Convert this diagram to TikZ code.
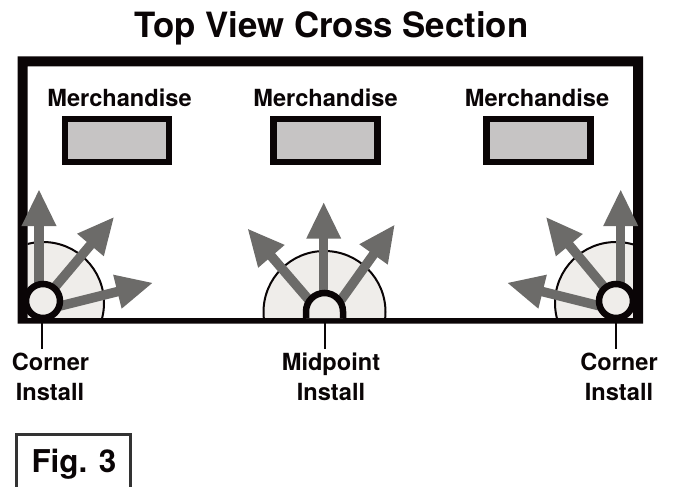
\documentclass[tikz,border=0pt]{standalone}
\usepackage{fontspec}
\setmainfont{TeX Gyre Heros}
\usetikzlibrary{arrows.meta}
\definecolor{rayc}{HTML}{6C6B69}
\definecolor{zonec}{HTML}{EFEDEA}
\definecolor{goodsc}{HTML}{C6C4C4}
\definecolor{inkc}{HTML}{0A0506}
\tikzset{
  ray/.style={draw=rayc,line width=9.5pt,-{Triangle[width=32pt,length=37pt]}},
  zone/.style={fill=zonec,draw=inkc,line width=2pt},
  ring/.style={fill=zonec,draw=inkc,line width=6.5pt},
  goods/.style={fill=goodsc,draw=inkc,line width=6.5pt},
  leader/.style={draw=inkc,line width=2.2pt},
  lab/.style={font=\fontsize{23.6pt}{23.6pt}\selectfont\bfseries,text=inkc,anchor=base,inner sep=0pt},
  heading/.style={font=\fontsize{34.8pt}{34.8pt}\selectfont\bfseries,text=inkc,anchor=base,inner sep=0pt},
  figlab/.style={font=\fontsize{31.4pt}{31.4pt}\selectfont\bfseries,text=inkc,anchor=base,inner sep=0pt}
}
\begin{document}
\begin{tikzpicture}[x=1pt,y=-1pt]
\useasboundingbox (0,0) rectangle (673,487);
\node[heading] (title) at (331.5,37.5) {Top View Cross Section};
% coverage zones
\begin{scope}
\clip (27.5,66) rectangle (633,320);
\draw[zone] (43,303) circle (61);
\draw[zone] (324.5,312) circle (61);
\draw[zone] (616,303) circle (61);
\end{scope}
% wall
\fill[inkc,even odd rule] (17.5,56.5) rectangle (643,323.5) (27.5,66.5) rectangle (633,318);
% merchandise
\node[goods,minimum width=104pt,minimum height=43pt,inner sep=0pt] (g1) at (117,140.5) {};
\node[goods,minimum width=104pt,minimum height=43pt,inner sep=0pt] (g2) at (325.5,140.5) {};
\node[goods,minimum width=104pt,minimum height=43pt,inner sep=0pt] (g3) at (538.5,140.5) {};
\node[lab] (m1) at (119.5,106.7) {Merchandise};
\node[lab] (m2) at (325.5,106.7) {Merchandise};
\node[lab] (m3) at (537,106.7) {Merchandise};
% install points
\coordinate (cl) at (43,301);
\coordinate (cr) at (616,301);
\coordinate (mp) at (324.5,311.5);
% rays, left corner
\coordinate (la) at (39,285); \coordinate (lat) at (39,189);
\coordinate (lb) at (55,287); \coordinate (lbt) at (114.3,216.7);
\coordinate (lc) at (60,306); \coordinate (lct) at (153.3,282.7);
\draw[ray] (la) -- (lat);
\draw[ray] (lb) -- (lbt);
\draw[ray] (lc) -- (lct);
% rays, midpoint
\coordinate (ma) at (323.7,295); \coordinate (mat) at (323.7,201.7);
\coordinate (mb) at (309,300); \coordinate (mbt) at (247.3,228.3);
\coordinate (mc) at (341,300); \coordinate (mct) at (395,224.3);
\draw[ray] (ma) -- (mat);
\draw[ray] (mb) -- (mbt);
\draw[ray] (mc) -- (mct);
% rays, right corner
\coordinate (ra) at (620.7,285); \coordinate (rat) at (620.7,189);
\coordinate (rb) at (604,287); \coordinate (rbt) at (545.7,216.7);
\coordinate (rc) at (600,306); \coordinate (rct) at (506.7,282.7);
\draw[ray] (ra) -- (rat);
\draw[ray] (rb) -- (rbt);
\draw[ray] (rc) -- (rct);
% lamps
\node[ring,circle,minimum size=34pt,inner sep=0pt] (lampl) at (cl) {};
\node[ring,circle,minimum size=34pt,inner sep=0pt] (lampr) at (cr) {};
\draw[ring] ([xshift=-18.5pt]mp) ++(0,6.5) -- ++(0,-6.5) arc[start angle=180,end angle=0,radius=18.5pt] -- ++(0,6.5);
% labels
\node[lab] (c1) at (50.5,370) {Corner};
\node[lab] (i1) at (50,400) {Install};
\node[lab] (c2) at (331,370) {Midpoint};
\node[lab] (i2) at (331,400) {Install};
\node[lab] (c3) at (619,370) {Corner};
\node[lab] (i3) at (619,400) {Install};
\coordinate (t1) at (42.3,323); \coordinate (b1) at (42.3,349);
\coordinate (t2) at (324.7,323); \coordinate (b2) at (324.7,349);
\coordinate (t3) at (616,323); \coordinate (b3) at (616,349);
\draw[leader] (t1) -- (b1);
\draw[leader] (t2) -- (b2);
\draw[leader] (t3) -- (b3);
% figure tag
\node[figlab] (fig) at (74,472.7) {Fig. 3};
\draw[line width=3pt,draw=black!80] (16,487) -- (16,434) -- (130.5,434) -- (130.5,487);
\end{tikzpicture}
\end{document}
